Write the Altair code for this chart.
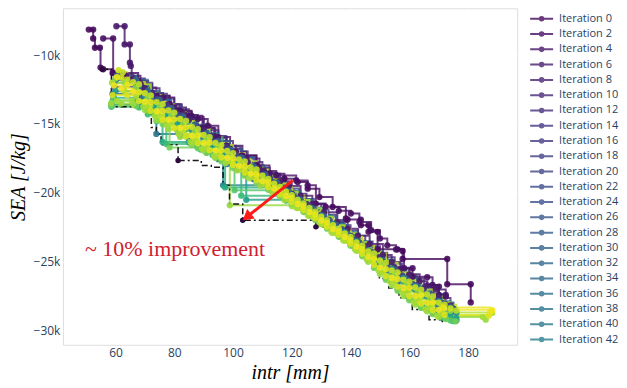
import altair as alt
import pandas as pd

# ---------------- data ----------------
ITERATIONS = list(range(0, 101, 2))
LEGEND_ITERS = list(range(0, 43, 2))
X_TICKS = [60, 80, 100, 120, 140, 160, 180]
Y_TICKS = [-30000, -25000, -20000, -15000, -10000]

it0_x = [50.9, 52.4, 52.4, 53.0, 54.7, 54.9, 55.8, 59.0, 67.7, 71.1, 74.0, 78.4, 81.8, 85.8, 89.6, 93.6, 97.8, 103.2, 108.0, 112.4, 117.5, 122.0, 125.4, 129.4, 133.9, 138.4, 139.0, 143.5, 143.5, 146.1, 146.1, 149.2, 149.2, 156.0, 157.7, 157.7, 172.9, 172.9, 180.9, 180.9]
it0_y = [-8150, -8150, -8800, -9470, -9470, -10910, -11030, -11300, -11880, -12720, -12960, -13560, -14040, -14400, -15270, -15900, -16570, -17290, -18010, -18600, -18970, -19210, -19690, -20300, -21020, -21850, -21930, -21930, -22340, -22340, -22820, -22820, -24090, -24090, -24210, -24790, -24790, -26620, -26620, -27940]

it2_x = [55.8, 59.2, 59.2, 63.5, 68.5, 72.5, 76.2, 80.0, 84.0, 88.0, 91.4, 95.0, 99.0, 102.8, 107.9, 110.5, 114.7, 121.5, 125.4, 128.2, 131.5, 136.0, 140.1, 143.0, 147.0, 150.0, 152.5, 155.5, 158.2, 161.1, 161.1, 166.1, 167.9, 170.1, 170.1, 172.4]
it2_y = [-8800, -8800, -11280, -11500, -12100, -12750, -13080, -13800, -14350, -14640, -15120, -15950, -16800, -17290, -18010, -18400, -18730, -19090, -19450, -20770, -21000, -21300, -21490, -22100, -22700, -23300, -23800, -24100, -25460, -25460, -26070, -26110, -26670, -26790, -27390, -27510]

it4_x = [60.3, 63.1, 63.1, 64.9, 64.9, 65.2, 65.5, 69.4, 73.9, 78.4, 82.5, 86.0, 90.0, 94.0, 97.8, 101.0, 104.5, 109.0, 112.4, 116.0, 119.0, 123.0, 127.0, 131.0, 135.5, 139.0, 142.5, 146.5, 151.0, 154.0, 157.0, 160.0, 163.5, 166.1, 169.0, 172.4]
it4_y = [-7910, -7910, -9230, -9230, -10550, -10790, -11800, -12360, -12960, -13560, -14100, -14500, -15300, -16000, -16570, -17000, -17500, -18200, -18610, -19150, -19500, -20200, -20800, -21400, -22100, -22600, -23100, -23700, -24500, -25000, -25500, -25900, -26400, -26700, -27000, -27390]

it8_x = [61.5, 66, 70, 75, 80, 85, 90, 95, 100, 105, 110, 115, 120, 125, 130, 135, 140, 145, 150, 155, 160, 165, 170, 174]
it8_y = [-11400, -11700, -12400, -13150, -13930, -14700, -15460, -16230, -17000, -17760, -18530, -19280, -20060, -20820, -21580, -22340, -23110, -23870, -24660, -25420, -26180, -26900, -27620, -28150]

it14_x = [60, 67.5, 72.5, 77.5, 82.5, 87.5, 92.5, 97.5, 102.5, 107.5, 112.5, 117.5, 122.5, 127.5, 132.5, 137.5, 142.5, 147.5, 152.5, 157.5, 162.5, 167.5, 172, 175]
it14_y = [-11800, -12000, -12800, -13600, -14350, -15100, -15870, -16640, -17400, -18170, -18920, -19670, -20440, -21200, -21960, -22720, -23520, -24330, -25140, -25980, -26690, -27350, -28020, -28400]

it20_x = [59.5, 68, 71, 74, 78, 81, 84, 88, 91, 94, 98, 101, 104, 108, 111, 114, 118, 121, 124, 128, 131, 134, 138, 141, 144, 148, 151, 154, 158, 161, 164, 168, 171, 174]
it20_y = [-12300, -12350, -12700, -13200, -13850, -14300, -14750, -15350, -15800, -16270, -16900, -17300, -17750, -18350, -18800, -19230, -19830, -20300, -20740, -21350, -21800, -22260, -22870, -23350, -23800, -24450, -24950, -25500, -26150, -26600, -27000, -27600, -28000, -28350]

it26_x = [59, 69, 72, 76, 80, 83, 87, 90, 93, 97, 100, 104, 107, 110, 113, 117, 120, 123, 127, 130, 133, 137, 140, 143, 147, 150, 153, 157, 160, 163, 167, 170, 174.5]
it26_y = [-12800, -13000, -13350, -14000, -14550, -15000, -15550, -16000, -16420, -16980, -17380, -17900, -18300, -18700, -19120, -19700, -20120, -20550, -21150, -21600, -22050, -22650, -23150, -23650, -24300, -24900, -25500, -26200, -26700, -27150, -27700, -28150, -28600]

it32_x = [60.5, 67, 71, 75, 79, 83, 87, 91, 95, 99, 103, 107, 111, 115, 119, 123, 127, 131, 135, 139, 143, 147, 151, 155, 159, 163, 167, 171, 175]
it32_y = [-11500, -11800, -12600, -13250, -13850, -14450, -15050, -15650, -16250, -16850, -17450, -18050, -18650, -19250, -19880, -20500, -21100, -21700, -22320, -22950, -23600, -24250, -24900, -25580, -26250, -26800, -27350, -27950, -28450]

it38_x = [58.6, 68, 71, 73.9, 82, 85, 88, 91, 95, 98, 101.5, 104, 107, 110, 113, 116, 119, 122, 126, 129, 132, 136, 139, 142, 146, 149, 152, 156, 159, 162, 166, 169, 173, 176]
it38_y = [-13600, -13650, -14050, -15720, -15800, -16250, -16650, -17050, -17550, -17900, -18300, -18600, -19000, -19400, -19750, -20100, -20500, -20850, -21400, -21800, -22250, -22800, -23250, -23750, -24500, -25100, -25700, -26500, -27050, -27550, -28150, -28600, -29000, -29250]

it44_x = [60, 68, 72, 76, 80, 84, 88, 92, 96.6, 114, 118, 122, 126, 130, 134, 138, 142, 146, 150, 154, 158, 162, 166, 170, 174]
it44_y = [-11800, -12200, -13000, -13650, -14250, -14850, -15400, -15950, -19450, -19500, -19850, -20450, -21050, -21650, -22250, -22850, -23500, -24150, -24850, -25500, -26150, -26750, -27300, -27850, -28300]

it50_x = [59.5, 67, 70, 74, 78, 82, 86, 90, 94, 98, 102, 106, 110, 114, 118, 122, 126, 130, 134, 138, 142, 146, 150, 154, 158, 162, 166, 170, 174, 176]
it50_y = [-12000, -12300, -12950, -13600, -14250, -14850, -15450, -16000, -16560, -17150, -17700, -18250, -18850, -19400, -20000, -20600, -21200, -21800, -22420, -23020, -23650, -24320, -25000, -25700, -26400, -27000, -27500, -28000, -28500, -28700]

it56_x = [60, 68, 71, 74, 78, 81, 84, 87, 90, 93, 96, 99, 102, 104.5, 118, 122, 126, 130, 134, 138, 142, 146, 150, 154, 158, 162, 166, 170, 174, 176]
it56_y = [-12600, -12700, -13200, -13800, -14450, -14900, -15350, -15750, -16150, -16550, -16950, -17350, -17750, -20500, -20550, -20950, -21450, -22000, -22600, -23200, -23850, -24600, -25400, -26200, -26950, -27550, -28050, -28500, -28900, -29100]

it62_x = [59.5, 67, 70, 73, 76.0, 85, 88, 91, 95, 97.3, 115, 118, 122, 126, 130, 134, 138, 142, 146, 150, 154, 158, 162, 166, 170, 173]
it62_y = [-13100, -13200, -13500, -14000, -16300, -16350, -16650, -16950, -17450, -19600, -19650, -20100, -20700, -21300, -21900, -22550, -23150, -23800, -24550, -25400, -26250, -27000, -27650, -28200, -28700, -29050]

it68_x = [58.6, 68, 71, 74, 77.3, 86, 89, 93, 97, 102.8, 117, 120, 124, 128, 132, 136, 140, 144, 148, 152, 156, 160, 164, 168, 172, 175]
it68_y = [-13750, -13800, -14300, -14800, -16450, -16500, -16850, -17250, -17700, -20200, -20300, -20700, -21300, -21900, -22500, -23100, -23750, -24500, -25300, -26150, -26950, -27650, -28250, -28700, -29100, -29300]

it74_x = [59, 66, 70, 73, 77, 81, 84, 88, 92, 96, 100.5, 113, 116, 120, 124, 128, 132, 136, 140, 144, 148, 152, 156, 160, 164, 168, 171, 174]
it74_y = [-13300, -13350, -13700, -14300, -14900, -15450, -15900, -16400, -16880, -17350, -19800, -19850, -20150, -20620, -21200, -21800, -22430, -23030, -23650, -24350, -25150, -26000, -26850, -27600, -28200, -28650, -29000, -29250]

it80_x = [58.6, 67, 71, 74, 76, 78.4, 88, 91, 94, 96, 100, 104, 108, 112, 116, 120, 124, 128, 132, 136, 140, 144, 148, 152, 156, 160, 164, 168, 172.5, 175.8]
it80_y = [-13650, -13700, -14100, -14700, -15000, -16700, -16760, -17100, -17450, -17700, -18200, -18750, -19280, -19770, -20270, -20810, -21380, -21970, -22590, -23180, -23830, -24590, -25440, -26300, -27100, -27790, -28340, -28790, -29150, -29310]

it84_x = [60, 63, 67, 71, 75, 79, 83, 87, 91, 95, 99, 103, 107, 111, 115, 119, 123, 127, 131, 135, 139, 143, 147, 151, 155, 159, 163, 167, 171, 174]
it84_y = [-11700, -11960, -12390, -13150, -13790, -14410, -15010, -15590, -16160, -16730, -17310, -17900, -18490, -19070, -19640, -20240, -20830, -21430, -22040, -22650, -23270, -23920, -24600, -25300, -26000, -26650, -27210, -27730, -28250, -28550]

it86_x = [58.5, 62, 66, 70, 74, 78, 82, 86, 90, 94, 98.9, 120, 122, 126, 130, 134, 138, 142, 146, 150, 154, 158, 162, 166, 170, 186]
it86_y = [-13500, -13520, -13560, -13990, -14720, -15360, -15940, -16480, -16920, -17430, -20900, -20950, -21090, -21670, -22270, -22900, -23460, -24200, -24990, -25880, -26710, -27480, -28100, -28580, -29000, -29190]

it88_x = [60.5, 65.5, 69.5, 73.5, 77.5, 81.5, 85.5, 89.5, 93.5, 97.5, 101.5, 105.5, 109.5, 113.5, 117.5, 121.5, 125.5, 129.5, 133.5, 137.5, 141.5, 145.5, 149.5, 153.5, 157.5, 161.5, 165.5, 169.5, 185]
it88_y = [-13300, -13310, -13740, -14440, -15110, -15720, -16290, -16800, -17310, -17830, -18370, -18930, -19470, -19990, -20510, -21060, -21640, -22230, -22850, -23440, -24080, -24820, -25620, -26440, -27210, -27890, -28430, -28910, -29000]

it90_x = [58.8, 63, 67, 71, 75, 79, 83, 87, 91, 95, 99, 103, 107, 111, 115, 119, 123, 127, 131, 135, 139, 143, 147, 151, 155, 159, 163, 167, 171, 188.2]
it90_y = [-12000, -12600, -12950, -13670, -14340, -14960, -15550, -16100, -16620, -17160, -17710, -18280, -18850, -19390, -19920, -20490, -21070, -21660, -22270, -22880, -23490, -24190, -24930, -25710, -26470, -27150, -27720, -28220, -28670, -28700]

it92_x = [62.5, 64, 68, 72, 76, 80, 84, 88, 92, 96, 100, 104, 108, 112, 116, 120, 124, 128, 132, 136, 140, 144, 148, 152, 156, 160, 164, 168, 172, 176]
it92_y = [-11250, -11780, -12110, -12920, -13560, -14170, -14780, -15370, -15950, -16530, -17110, -17710, -18300, -18990, -19570, -20160, -20760, -21360, -21970, -22590, -23180, -23830, -24390, -25070, -25770, -26440, -27010, -27510, -28100, -28530]

it94_x = [61, 62, 66, 70, 74, 78, 82, 86, 90, 94, 98, 102, 106, 110, 114, 118, 122, 126, 130, 134, 138, 142, 146, 150, 154, 158, 162, 166, 170, 174]
it94_y = [-11100, -11630, -11960, -12770, -13410, -14020, -14630, -15220, -15800, -16380, -16960, -17560, -18150, -18740, -19320, -19910, -20510, -21110, -21720, -22340, -22930, -23580, -24240, -24920, -25620, -26290, -26860, -27360, -27950, -28380]

it96_x = [59, 64, 68, 72, 76, 80, 84, 88, 92, 96, 100, 104, 108, 112, 116, 120, 124, 128, 132, 136, 140, 144, 148, 152, 156, 160, 164, 168, 172, 187]
it96_y = [-12900, -12910, -13340, -14040, -14710, -15320, -15890, -16400, -16910, -17430, -17970, -18530, -19070, -19590, -20110, -20660, -21240, -21830, -22450, -23040, -23680, -24420, -25220, -26040, -26810, -27490, -28030, -28510, -28850, -28900]

it98_x = [60.5, 64, 68, 72, 76, 80, 84, 88, 92, 96, 100, 104, 108, 112, 116, 120, 124, 128, 132, 136, 140, 144, 148, 152, 156, 160, 164, 168, 171.5, 187.5]
it98_y = [-11600, -12170, -12690, -13410, -14050, -14660, -15250, -15810, -16360, -16930, -17500, -18080, -18660, -19220, -19780, -20360, -20950, -21560, -22170, -22770, -23400, -24080, -24790, -25530, -26240, -26880, -27420, -27940, -28300, -28650]

it100_x = [59.5, 62, 66, 70, 74, 78, 82, 86, 90, 94, 98, 102, 106, 110, 114, 118, 122, 126, 130, 134, 138, 142, 146, 150, 154, 158, 162, 166, 170, 188.2]
it100_y = [-12200, -12430, -12650, -13380, -14070, -14690, -15290, -15850, -16360, -16910, -17450, -18020, -18590, -19140, -19670, -20220, -20800, -21390, -22000, -22620, -23200, -23890, -24620, -25400, -26170, -26890, -27480, -27970, -28480, -28500]

# overall best front (black dash-dot)
best_x = [55.5, 58.6, 68.5, 70.5, 72.2, 73.9, 75.5, 81.3, 89.2, 92.6, 96.6, 98.8, 103.3, 128.2, 132.2, 136, 140, 145, 149.8, 153, 156.5, 161, 166.7, 171.2]
best_y = [-11030, -13750, -13850, -14300, -15250, -15720, -16500, -17650, -18010, -18130, -19450, -20800, -21980, -22460, -22600, -23300, -24000, -25000, -26200, -26900, -27600, -28450, -29200, -29430]
best_mark_x = [55.5, 81.3, 103.3, 128.2]
best_mark_y = [-11030, -17650, -21980, -22460]

# annotation
arrow_tail = [120.3, -19090]
arrow_head = [104.7, -21746]
note_text = ["~ 10% improvement"]
note_pos = [49.6, -24070]

SERIES = [
    (0, it0_x, it0_y), (2, it2_x, it2_y), (4, it4_x, it4_y), (8, it8_x, it8_y),
    (14, it14_x, it14_y), (20, it20_x, it20_y), (26, it26_x, it26_y), (32, it32_x, it32_y),
    (38, it38_x, it38_y), (44, it44_x, it44_y), (50, it50_x, it50_y), (56, it56_x, it56_y),
    (62, it62_x, it62_y), (68, it68_x, it68_y), (74, it74_x, it74_y), (80, it80_x, it80_y),
    (84, it84_x, it84_y), (86, it86_x, it86_y), (88, it88_x, it88_y), (90, it90_x, it90_y),
    (92, it92_x, it92_y), (94, it94_x, it94_y), (96, it96_x, it96_y), (98, it98_x, it98_y),
    (100, it100_x, it100_y),
]

rows = []
for it, xs, ys in SERIES:
    for k, (x, y) in enumerate(zip(xs, ys)):
        rows.append({"it": it, "x": x, "y": y, "k": k})
df = pd.DataFrame(rows)

df_best = pd.DataFrame({"x": best_x, "y": best_y, "k": list(range(len(best_x)))})
df_best_m = pd.DataFrame({"x": best_mark_x, "y": best_mark_y})
df_arrow = pd.DataFrame({"x": [arrow_tail[0]], "y": [arrow_tail[1]],
                         "x2": [arrow_head[0]], "y2": [arrow_head[1]]})
df_head = pd.DataFrame({"x": [arrow_head[0]], "y": [arrow_head[1]]})
df_note = pd.DataFrame({"x": [note_pos[0]], "y": [note_pos[1]], "t": note_text})

# ---------------- chart ----------------
TICK_COLOR = "#2a3f5f"
TITLE_STYLE = dict(titleFont="Liberation Serif", titleFontStyle="italic",
                   titleFontWeight="normal", titleFontSize=20, titleColor="black")
LABEL_STYLE = dict(labelFont="Open Sans", labelFontSize=12, labelColor=TICK_COLOR,
                   grid=True, gridColor="white", gridWidth=1, domain=False, ticks=False)
x_enc = alt.X("x:Q", scale=alt.Scale(domain=[42.1, 196.7], nice=False, zero=False),
              axis=alt.Axis(values=X_TICKS, title="intr [mm]", labelPadding=3,
                            titlePadding=4, **TITLE_STYLE, **LABEL_STYLE))
y_enc = alt.Y("y:Q", scale=alt.Scale(domain=[-31010, -6610], nice=False, zero=False),
              axis=alt.Axis(values=Y_TICKS, format="~s", title="SEA [J/kg]",
                            labelPadding=3, titlePadding=5, **TITLE_STYLE, **LABEL_STYLE))

LEG_PATH = ("M-3.83,0H3.83M-0.6,0A0.6,0.6,0,1,0,0.6,0A0.6,0.6,0,1,0,-0.6,0Z")
legend = alt.Legend(title=" ", titleFontSize=1, titlePadding=4,
                    values=LEGEND_ITERS, labelExpr="'Iteration ' + datum.label",
                    symbolType=LEG_PATH, symbolSize=36, symbolStrokeWidth=2,
                    symbolOpacity=0.8, labelFont="Open Sans", labelFontSize=11,
                    labelColor=TICK_COLOR, rowPadding=2.3, padding=0, offset=19,
                    labelOffset=12, symbolOffset=0)
color_enc = alt.Color("it:O", scale=alt.Scale(domain=ITERATIONS, scheme="viridis"),
                      legend=legend)

lines = alt.Chart(df).mark_line(interpolate="step-after", strokeWidth=2, opacity=0.8).encode(
    x=x_enc, y=y_enc, color=color_enc, order="k:Q")
points = alt.Chart(df).mark_circle(size=40, opacity=0.9).encode(
    x=x_enc, y=y_enc, color=color_enc, order=alt.Order("it:Q"))
best_line = alt.Chart(df_best).mark_line(
    interpolate="step-after", color="black", strokeWidth=1.5, strokeDash=[6, 3, 2, 3],
    opacity=0.9).encode(x=x_enc, y=y_enc, order="k:Q")
best_pts = alt.Chart(df_best_m).mark_circle(size=30, color="#2c0a3e", opacity=1).encode(
    x=x_enc, y=y_enc)
arrow = alt.Chart(df_arrow).mark_rule(color="#ff1a1a", strokeWidth=3).encode(
    x=x_enc, y=y_enc, x2="x2:Q", y2="y2:Q")
head = alt.Chart(df_head).mark_point(shape="triangle-up", filled=True, size=150, angle=231.5,
                                     color="#ff1a1a", opacity=1).encode(x=x_enc, y=y_enc)
note = alt.Chart(df_note).mark_text(align="left", baseline="middle", font="Liberation Serif",
                                    fontSize=22, color="#d0202e").encode(
    x=x_enc, y=y_enc, text="t:N")

chart = alt.layer(lines, best_line, points, best_pts, arrow, head, note).properties(
    width=455, height=337, padding={"left": 0, "top": 0, "right": 0, "bottom": 0}
).configure_view(fill="#E5ECF6", stroke=None).configure(background="white")

chart.save("out.html", embed_options={"renderer": "svg", "actions": False})
